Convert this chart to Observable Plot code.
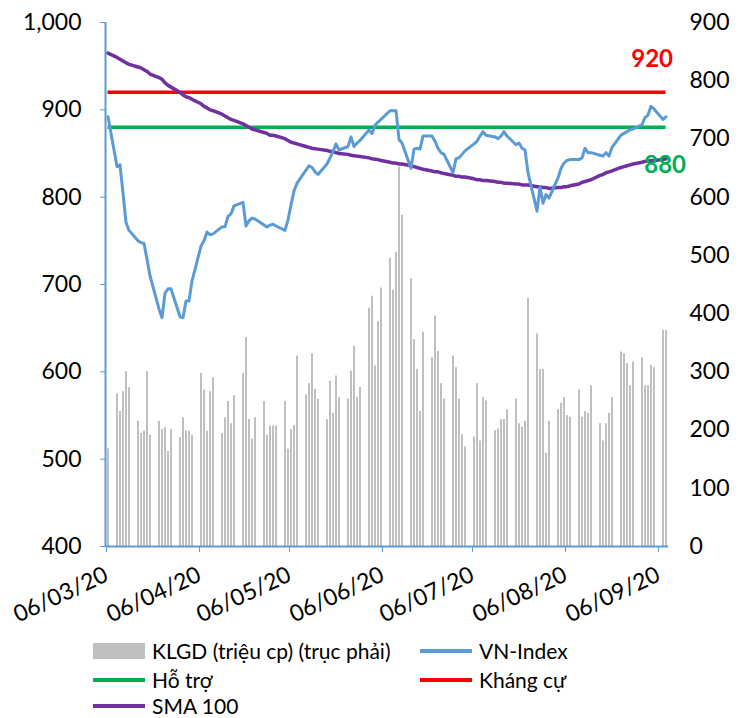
<!DOCTYPE html>
<html>
<head>
<meta charset="utf-8">
<script src="https://cdn.jsdelivr.net/npm/d3@7"></script>
<script src="https://cdn.jsdelivr.net/npm/@observablehq/plot@0.6"></script>
<style>
  body { margin: 0; background: #fff; font-family: Lato, sans-serif; overflow: hidden; }
  #chart { width: 743px; height: 630px; }
  #legend { position: relative; width: 743px; height: 88px; font-size: 21px; line-height: 20px; color: #000; }
  .item { position: absolute; display: flex; align-items: center; height: 20px; white-space: nowrap; }
  .sw { width: 52px; margin-right: 7px; }
</style>
</head>
<body>
<div id="chart"></div>
<div id="legend"></div>
<script>
// ---- Data ----
const dates = [
  "2020-03-06",
  "2020-03-09","2020-03-10","2020-03-11","2020-03-12","2020-03-13",
  "2020-03-16","2020-03-17","2020-03-18","2020-03-19","2020-03-20",
  "2020-03-23","2020-03-24","2020-03-25","2020-03-26","2020-03-27",
  "2020-03-30","2020-03-31","2020-04-01","2020-04-02","2020-04-03",
  "2020-04-06","2020-04-07","2020-04-08","2020-04-09","2020-04-10",
  "2020-04-13","2020-04-14","2020-04-15","2020-04-16","2020-04-17",
  "2020-04-20","2020-04-21","2020-04-22","2020-04-23","2020-04-24",
  "2020-04-27","2020-04-28","2020-04-29","2020-04-30","2020-05-01",
  "2020-05-04","2020-05-05","2020-05-06","2020-05-07","2020-05-08",
  "2020-05-11","2020-05-12","2020-05-13","2020-05-14","2020-05-15",
  "2020-05-18","2020-05-19","2020-05-20","2020-05-21","2020-05-22",
  "2020-05-25","2020-05-26","2020-05-27","2020-05-28","2020-05-29",
  "2020-06-01","2020-06-02","2020-06-03","2020-06-04","2020-06-05",
  "2020-06-08","2020-06-09","2020-06-10","2020-06-11","2020-06-12",
  "2020-06-15","2020-06-16","2020-06-17","2020-06-18","2020-06-19",
  "2020-06-22","2020-06-23","2020-06-24","2020-06-25","2020-06-26",
  "2020-06-29","2020-06-30","2020-07-01","2020-07-02","2020-07-03",
  "2020-07-06","2020-07-07","2020-07-08","2020-07-09","2020-07-10",
  "2020-07-13","2020-07-14","2020-07-15","2020-07-16","2020-07-17",
  "2020-07-20","2020-07-21","2020-07-22","2020-07-23","2020-07-24",
  "2020-07-27","2020-07-28","2020-07-29","2020-07-30","2020-07-31",
  "2020-08-03","2020-08-04","2020-08-05","2020-08-06","2020-08-07",
  "2020-08-10","2020-08-11","2020-08-12","2020-08-13","2020-08-14",
  "2020-08-17","2020-08-18","2020-08-19","2020-08-20","2020-08-21",
  "2020-08-24","2020-08-25","2020-08-26","2020-08-27","2020-08-28",
  "2020-08-31","2020-09-01","2020-09-02","2020-09-03","2020-09-04",
  "2020-09-07","2020-09-08"
];

const vnIndex = [
  892,
  835,837,805,771,762,
  750,748,747,729,710,
  672,662,690,695,695,
  663,662,681,681,704,
  744,750,760,757,758,
  766,766,778,781,790,
  794,767,773,776,775,
  768,766,768,769,767,
  762,774,791,807,816,
  831,836,834,829,826,
  838,845,852,861,854,
  858,869,858,862,865,
  877,873,882,886,889,
  899,899,899,866,862,
  833,855,856,855,870,
  870,864,856,851,849,
  828,844,845,849,853,
  861,864,870,875,871,
  869,867,870,875,870,
  860,862,856,854,828,
  784,812,793,803,799,
  822,833,839,842,843,
  843,845,856,851,851,
  848,847,851,847,857,
  871,873,875,877,878,
  883,891,894,904,901,
  889,892
];

const volume = [
  168,
  262,232,266,300,273,
  215,194,198,300,191,
  215,201,204,163,201,
  187,221,198,198,191,
  297,269,198,266,290,
  194,221,249,211,259,
  297,359,218,184,221,
  249,191,207,207,207,
  249,167,201,208,327,
  260,280,331,270,253,
  218,284,229,293,256,
  253,301,344,256,273,
  409,430,310,386,444,
  495,440,505,652,569,
  460,355,304,232,368,
  324,396,335,280,253,
  327,307,253,192,171,
  188,280,181,256,250,
  199,202,218,218,235,
  253,211,205,215,426,
  365,304,304,160,215,
  235,246,256,225,222,
  269,222,232,229,276,
  211,181,211,229,256,
  334,331,314,276,317,
  324,276,276,311,307,
  371,371
];

const sma100 = [
  965,
  960,958,956,954,952,
  949,948,946,944,941,
  937,935,931,928,926,
  920,917,915,914,912,
  907,904,902,900,899,
  895,893,891,889,888,
  884,882,880,878,877,
  874,873,871,871,870,
  867,865,863,862,861,
  858,857,856,855.5,855,
  853.5,852.5,852,851,850,
  849,848,847.5,847,846.5,
  845,844,843.5,843,842,
  840,839,839,838,838,
  836,835,834,833,832,
  830,829,829,828,827,
  825,824,824,823,823,
  821,820,820,819,819,
  818,817,817,816,816,
  815,815,814,814,814,
  812,812,811,811,810,
  811,811,812,812,813,
  815,817,818,819,820,
  825,826,828,829,830,
  834,835,836,837,838,
  840,841,841,842,842,
  843,844
];

const resistance = 920;   // Kháng cự
const support = 880;      // Hỗ trợ

const leftTicks = [400, 500, 600, 700, 800, 900, 1000];
const rightTicks = [0, 100, 200, 300, 400, 500, 600, 700, 800, 900];
const xTickDates = ["2020-03-06","2020-04-06","2020-05-06","2020-06-06","2020-07-06","2020-08-06","2020-09-06"];

const legendItems = [
  {label: "KLGD (triệu cp) (trục phải)", color: "#BFBFBF", kind: "bar", col: 0, row: 0},
  {label: "VN-Index", color: "#5B9BD5", kind: "line", col: 1, row: 0},
  {label: "Hỗ trợ", color: "#00B050", kind: "line", col: 0, row: 1},
  {label: "Kháng cự", color: "#FF0000", kind: "line", col: 1, row: 1},
  {label: "SMA 100", color: "#7030A0", kind: "line", col: 0, row: 2}
];

// ---- Build ----
const parse = d3.utcParse("%Y-%m-%d");
const rows = dates.map((d, i) => ({
  date: new Date(parse(d).getTime() + 12 * 3600e3),
  vn: vnIndex[i], vol: volume[i], sma: sma100[i]
}));
// secondary (volume) axis mapped onto the primary scale: 0..900 -> 400..1000
const volToLeft = v => 400 + v * 600 / 900;
const leftToVol = y => Math.round((y - 400) * 900 / 600);

const xStart = parse("2020-03-06");
const xEnd = new Date(Date.UTC(2020, 8, 9, 8));
const first = rows[0].date, last = rows[rows.length - 1].date;

const chart = Plot.plot({
  width: 743,
  height: 630,
  marginLeft: 106,
  marginRight: 75,
  marginTop: 22,
  marginBottom: 84,
  style: {fontFamily: "Lato, sans-serif", background: "white", color: "black", overflow: "visible"},
  x: {type: "utc", domain: [xStart, xEnd]},
  y: {domain: [400, 1000]},
  marks: [
    Plot.ruleX(rows, {x: "date", y1: 400, y2: d => volToLeft(d.vol), stroke: "#BFBFBF", strokeWidth: 2}),
    Plot.ruleY([resistance], {y: d => d, x1: () => first, x2: () => last, stroke: "#FF0000", strokeWidth: 3.5}),
    Plot.ruleY([support], {y: d => d, x1: () => first, x2: () => last, stroke: "#00B050", strokeWidth: 3.5}),
    Plot.line(rows, {x: "date", y: "sma", stroke: "#7030A0", strokeWidth: 3.5}),
    Plot.line(rows, {x: "date", y: "vn", stroke: "#5B9BD5", strokeWidth: 3}),
    Plot.axisY({ticks: leftTicks, tickSize: 6, tickPadding: 19, tickFormat: d3.format(","),
      stroke: "#5B9BD5", fill: "black", fontSize: 23, label: null}),
    Plot.axisY({anchor: "right", ticks: rightTicks.map(volToLeft), tickSize: 0, tickPadding: 21,
      tickFormat: y => String(leftToVol(y)), fill: "black", fontSize: 23, label: null}),
    Plot.axisX({ticks: xTickDates.map(parse), tickSize: 6, tickPadding: 21, tickRotate: -25,
      tickFormat: d3.utcFormat("%d/%m/%y"), stroke: "#5B9BD5", fill: "black", fontSize: 23, label: null}),
    Plot.ruleX([xStart], {stroke: "#5B9BD5", strokeWidth: 2, dx: -1}),
    Plot.ruleY([400], {stroke: "#5B9BD5", strokeWidth: 2}),
    Plot.text([resistance], {x: () => last, y: d => d, text: d => String(d), textAnchor: "end", dx: 7, dy: -33,
      fill: "#FF0000", fontSize: 24, fontWeight: "bold"}),
    Plot.text([support], {x: () => last, y: d => d, text: d => String(d), textAnchor: "end", dx: 20, dy: 38,
      fill: "#00B050", fontSize: 24, fontWeight: "bold"})
  ]
});
document.getElementById("chart").appendChild(chart);

// ---- Legend ----
const legend = document.getElementById("legend");
const colX = [93, 420], rowY = [11, 40, 66];
for (const it of legendItems) {
  const div = document.createElement("div");
  div.className = "item";
  div.style.left = colX[it.col] + "px";
  div.style.top = rowY[it.row] + "px";
  const sw = document.createElement("span");
  sw.className = "sw";
  sw.style.background = it.color;
  sw.style.height = it.kind === "bar" ? "16px" : "4px";
  const t = document.createElement("span");
  t.textContent = it.label;
  div.appendChild(sw); div.appendChild(t);
  legend.appendChild(div);
}
</script>
</body>
</html>
